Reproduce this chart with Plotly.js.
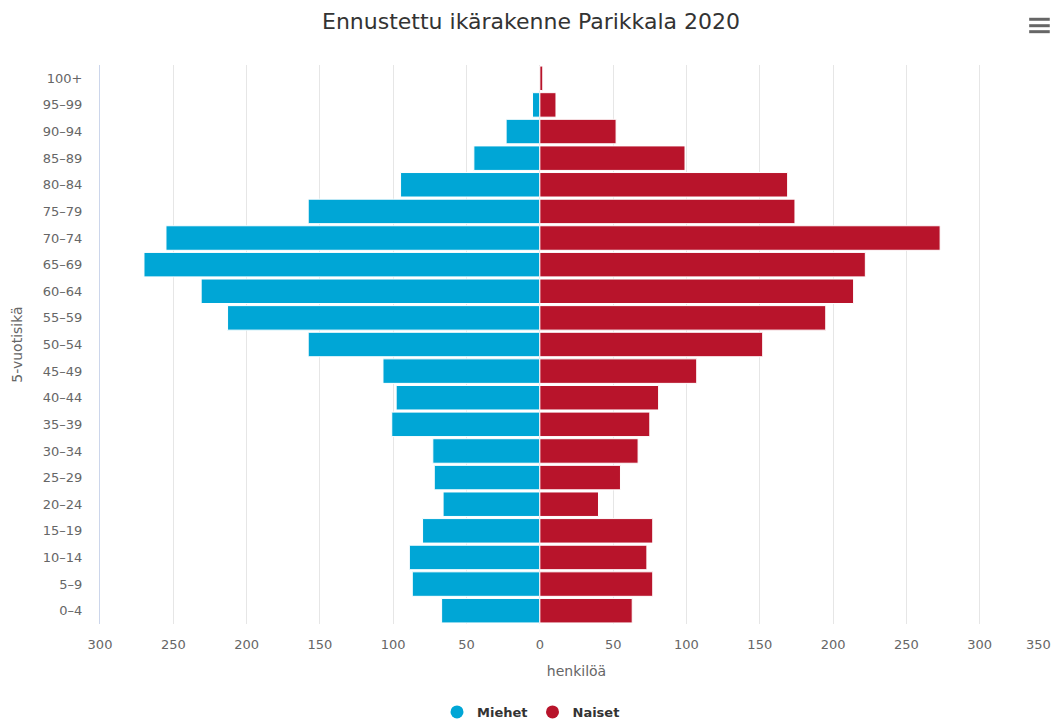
<!DOCTYPE html>
<html>
<head>
<meta charset="utf-8">
<script src="https://cdn.plot.ly/plotly-3.0.1.min.js"></script>
<style>html,body{margin:0;padding:0;background:#fff;}#chart{width:1062px;height:722px;}</style>
</head>
<body>
<div id="chart"></div>
<script>
const ageGroups = ["0–4","5–9","10–14","15–19","20–24","25–29","30–34","35–39","40–44","45–49","50–54","55–59","60–64","65–69","70–74","75–79","80–84","85–89","90–94","95–99","100+"];
const men   = [67, 87, 89, 80, 66, 72, 73, 101, 98, 107, 158, 213, 231, 270, 255, 158, 95, 45, 23, 5, 0];
const women = [63, 77, 73, 77, 40, 55, 67, 75, 81, 107, 152, 195, 214, 222, 273, 174, 169, 99, 52, 11, 2];
const tickValues = [-300, -250, -200, -150, -100, -50, 0, 50, 100, 150, 200, 250, 300, 350];
const tickText   = ["300", "250", "200", "150", "100", "50", "0", "50", "100", "150", "200", "250", "300", "350"];
const seriesNames = ["Miehet", "Naiset"];
const colors = ["#00a6d6", "#b8142b"];

const font = "DejaVu Sans, sans-serif";
const lastIdx = tickText.length - 1;

// the last label sits at the right edge: draw it right-aligned to its tick so it stays inside the page
const axisTickText = tickText.map((t, i) => i === lastIdx ? "" : t);

const traces = [
  {
    type: "bar", orientation: "h", name: seriesNames[0],
    y: ageGroups, x: men.map(v => -v),
    marker: {color: colors[0], line: {color: "#ffffff", width: 1}},
    showlegend: false, hoverinfo: "skip"
  },
  {
    type: "bar", orientation: "h", name: seriesNames[1],
    y: ageGroups, x: women,
    marker: {color: colors[1], line: {color: "#ffffff", width: 1}},
    showlegend: false, hoverinfo: "skip"
  },
  {
    type: "scatter", mode: "markers", name: seriesNames[0],
    x: [null], y: [null],
    marker: {color: colors[0], size: 13, symbol: "circle"}
  },
  {
    type: "scatter", mode: "markers", name: seriesNames[1],
    x: [null], y: [null],
    marker: {color: colors[1], size: 13, symbol: "circle"}
  }
];

const menuY = [1.0818, 1.0703, 1.0596];
const shapes = menuY.map(y => ({
  type: "line", xref: "paper", yref: "paper",
  x0: 0.9750, x1: 0.9966, y0: y, y1: y,
  line: {color: "#666666", width: 3}
}));

const annotations = [{
  xref: "x", x: tickValues[lastIdx], xanchor: "right",
  yref: "paper", y: 0, yanchor: "middle", yshift: -20,
  text: tickText[lastIdx], showarrow: false,
  font: {family: font, size: 13, color: "#666666"}
}];

const layout = {
  width: 1062, height: 722,
  margin: {l: 100, r: 9, t: 65, b: 98, pad: 0},
  paper_bgcolor: "#ffffff", plot_bgcolor: "#ffffff",
  font: {family: font, color: "#666666", size: 13},
  title: {
    text: "Ennustettu ikärakenne Parikkala 2020",
    font: {family: font, size: 22, color: "#333333"},
    x: 0.5, xref: "container", xanchor: "center",
    y: 1 - 21 / 722, yref: "container", yanchor: "middle"
  },
  barmode: "relative",
  bargap: 0.08,
  xaxis: {
    range: [-300, 350],
    tickvals: tickValues, ticktext: axisTickText,
    showgrid: true, gridcolor: "#e6e6e6", gridwidth: 1,
    zeroline: false, showline: false,
    ticks: "outside", ticklen: 8, tickcolor: "rgba(0,0,0,0)",
    tickfont: {family: font, size: 13, color: "#666666"},
    title: {text: "henkilöä", font: {family: font, size: 14, color: "#666666"}},
    fixedrange: true
  },
  yaxis: {
    type: "category",
    categoryorder: "array", categoryarray: ageGroups,
    showgrid: false, zeroline: false,
    showline: true, linecolor: "#ccd6eb", linewidth: 1,
    ticks: "outside", ticklen: 14, tickcolor: "rgba(0,0,0,0)",
    tickfont: {family: font, size: 13, color: "#666666"},
    automargin: true,
    title: {text: "5-vuotisikä", standoff: 16, font: {family: font, size: 14, color: "#666666"}},
    fixedrange: true
  },
  legend: {
    orientation: "h",
    xref: "container", x: 0.5, xanchor: "center",
    yref: "container", y: 10 / 722, yanchor: "middle",
    font: {family: font, size: 13, color: "#333333", weight: "bold"},
    itemclick: false, itemdoubleclick: false
  },
  annotations: annotations,
  shapes: shapes,
  showlegend: true
};

Plotly.newPlot("chart", traces, layout, {displayModeBar: false, staticPlot: true});
</script>
</body>
</html>
